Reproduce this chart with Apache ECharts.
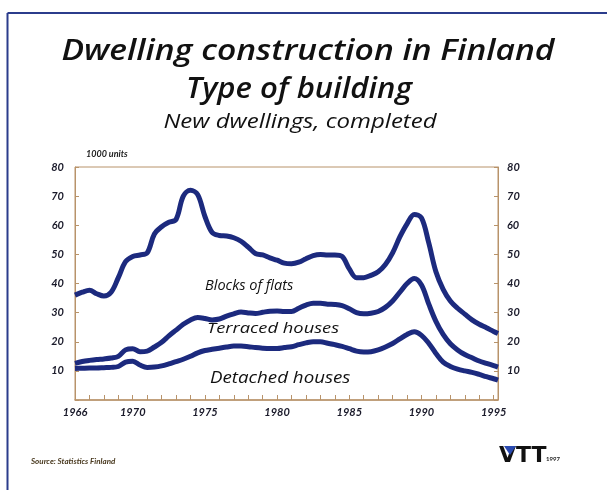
<!DOCTYPE html>
<html><head><meta charset="utf-8">
<script src="https://cdn.jsdelivr.net/npm/echarts@6/dist/echarts.min.js"></script>
<style>html,body{margin:0;padding:0;background:#fff}#c{width:607px;height:490px}</style>
</head><body><div id="c"></div>
<script>
const years = [1966,1966.5,1967,1967.5,1968,1968.5,1969,1969.5,1970,1970.5,1971,1971.5,1972,1972.5,1973,1973.5,1974,1974.5,1975,1975.5,1976,1976.5,1977,1977.5,1978,1978.5,1979,1979.5,1980,1980.5,1981,1981.5,1982,1982.5,1983,1983.5,1984,1984.5,1985,1985.5,1986,1986.5,1987,1987.5,1988,1988.5,1989,1989.5,1990,1990.5,1991,1991.5,1992,1992.5,1993,1993.5,1994,1994.5,1995,1995.3];
// cumulative lines as drawn (1000 units)
const blocksOfFlats = [36,37,37.7,36.5,35.7,37,42,47.5,49.3,49.8,50.5,57,59.5,61,62,70,72,70.5,63,57.5,56.5,56.3,55.7,54.5,52.5,50.3,49.8,48.8,48,47,46.8,47.3,48.5,49.6,50,49.8,49.8,49.3,45,42,42,42.8,44,46.5,50.5,56,60.5,63.7,62.5,54,44,38,34,31.5,29.5,27.5,26,24.8,23.5,22.8];
const terracedHouses = [12.6,13.2,13.6,13.9,14.1,14.4,15,17.2,17.6,16.6,16.8,18.2,19.8,22,24,26,27.5,28.3,28,27.5,27.8,28.8,29.6,30.2,29.9,29.7,30.1,30.5,30.6,30.4,30.4,31.5,32.6,33.2,33.2,32.9,32.8,32.4,31.3,30,29.6,29.8,30.4,31.8,34,37,40,41.7,39.5,33,27,22.5,19.3,17.2,15.6,14.5,13.4,12.6,11.8,11.3];
const detachedHouses = [10.8,10.9,11,11,11.1,11.2,11.5,13,13.3,12,11.2,11.3,11.7,12.4,13.2,14,15,16.2,17,17.4,17.8,18.2,18.5,18.5,18.3,18,17.8,17.7,17.7,18,18.3,19,19.6,20,20,19.5,19,18.4,17.6,16.8,16.5,16.6,17.2,18.2,19.4,21,22.5,23.4,22.2,19.5,16,13,11.5,10.6,10,9.5,8.8,8,7.3,6.8];
const xLabelYears = [1966,1970,1975,1980,1985,1990,1995];
const yTickLabels = [10,20,30,40,50,60,70,80];
const seriesNames = ['Blocks of flats','Terraced houses','Detached houses'];

const zip = v => years.map((y,i)=>[y,v[i]]);
const F = 'Lato, "Open Sans", sans-serif';
const O = '"Open Sans", Lato, sans-serif';
const lineColor = '#1c2a7e';
const axisColor = '#b8936a';
const yLab = {show:true,fontFamily:F,fontStyle:'italic',fontWeight:'bold',fontSize:11,color:'#1a1a2a',
  formatter:v=>yTickLabels.includes(v)?String(v):''};

const chart = echarts.init(document.getElementById('c'));
chart.setOption({
  animation:false,
  backgroundColor:'#fff',
  grid:{left:75,right:109,top:167,bottom:90,show:true,borderColor:axisColor,borderWidth:1},
  xAxis:{type:'value',min:1966,max:1995.3,interval:1,
    axisLine:{lineStyle:{color:axisColor,width:1.5}},
    axisTick:{inside:true,length:5,lineStyle:{color:axisColor}},
    splitLine:{show:false},
    axisLabel:{fontFamily:F,fontStyle:'italic',fontWeight:'bold',fontSize:11,color:'#1a1a2a',margin:7,
      formatter:v=>xLabelYears.includes(v)?String(v):''}},
  yAxis:[
    {type:'value',min:0,max:80,interval:10,position:'left',
     axisLine:{show:true,lineStyle:{color:axisColor}},
     axisTick:{show:true,inside:true,length:4,lineStyle:{color:axisColor}},
     splitLine:{show:false},axisLabel:Object.assign({},yLab,{margin:11})},
    {type:'value',min:0,max:80,interval:10,position:'right',
     axisLine:{show:true,lineStyle:{color:axisColor}},
     axisTick:{show:true,inside:true,length:4,lineStyle:{color:axisColor}},
     splitLine:{show:false},axisLabel:Object.assign({},yLab,{margin:9})}
  ],
  series:[
    {name:seriesNames[0],type:'line',data:zip(blocksOfFlats),smooth:0.35,showSymbol:false,lineStyle:{color:lineColor,width:5}},
    {name:seriesNames[1],type:'line',data:zip(terracedHouses),smooth:0.35,showSymbol:false,lineStyle:{color:lineColor,width:5}},
    {name:seriesNames[2],type:'line',data:zip(detachedHouses),smooth:0.35,showSymbol:false,lineStyle:{color:lineColor,width:5}}
  ],
  graphic:[
    {type:'line',shape:{x1:7.5,y1:13,x2:607,y2:13},style:{stroke:'#2b3c8c',lineWidth:2}},
    {type:'line',shape:{x1:7.5,y1:13,x2:7.5,y2:490},style:{stroke:'#2b3c8c',lineWidth:2}},
    {type:'text',x:308,y:38,scaleX:1.2,style:{text:'Dwelling construction in Finland',textAlign:'center',font:'italic 600 28px '+O,fill:'#111'}},
    {type:'text',x:299,y:76,scaleX:1.11,style:{text:'Type of building',textAlign:'center',font:'italic 600 28px '+O,fill:'#111'}},
    {type:'text',x:300,y:112,scaleX:1.2,style:{text:'New dwellings, completed',textAlign:'center',font:'italic 20px '+O,fill:'#111'}},
    {type:'text',x:86,y:150,style:{text:'1000 units',font:'italic bold 9px '+F,fill:'#222'}},
    {type:'text',x:205,y:278,scaleX:0.97,style:{text:seriesNames[0],font:'italic 15px '+O,fill:'#111'}},
    {type:'text',x:207,y:321,scaleX:1.22,style:{text:seriesNames[1],font:'italic 15px '+O,fill:'#111'}},
    {type:'text',x:210,y:370,scaleX:1.17,style:{text:seriesNames[2],font:'italic 16px '+O,fill:'#111'}},
    {type:'text',x:31,y:457,style:{text:'Source: Statistics Finland',font:'italic bold 8px '+F,fill:'#4a3a20'}},
    {type:'text',x:499,y:445,style:{text:'VTT',font:'900 22px "DejaVu Sans", sans-serif',fill:'#111'}},
    {type:'polygon',shape:{points:[[504,446],[516,446],[510,455]]},style:{fill:'#2a4ab0'}},
    {type:'text',x:546,y:456,style:{text:'1997',font:'bold 6px '+F,fill:'#222'}}
  ]
});
</script></body></html>
